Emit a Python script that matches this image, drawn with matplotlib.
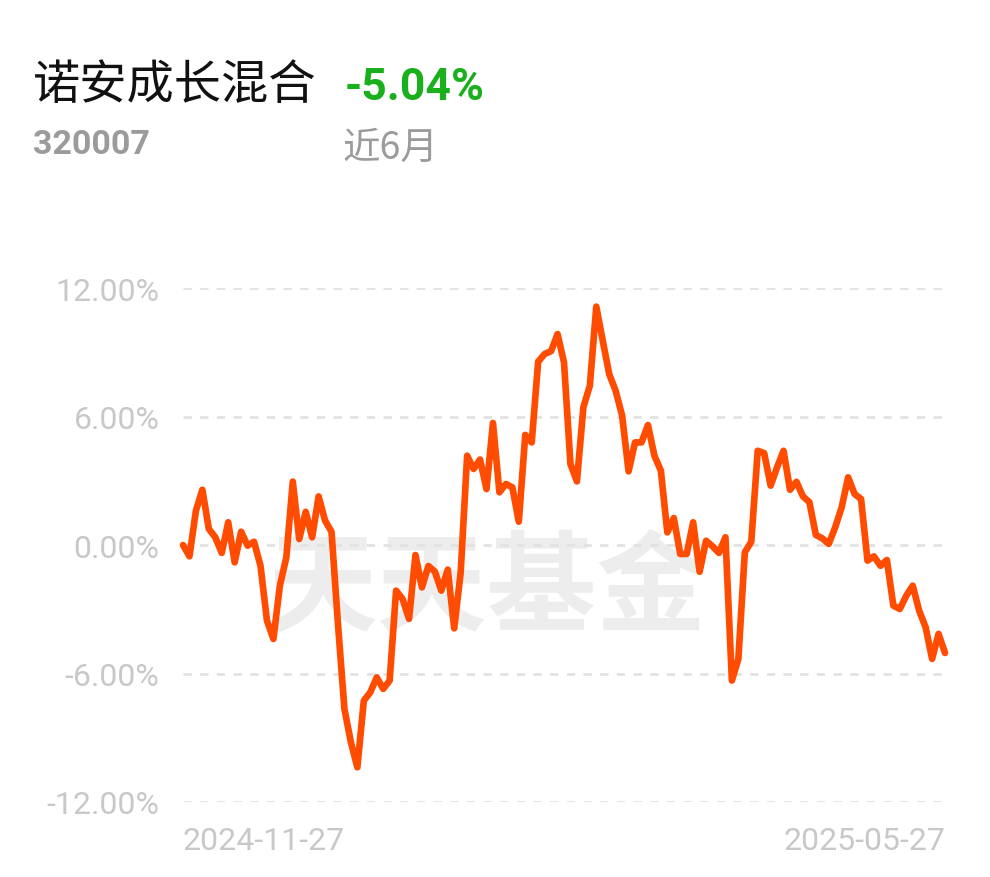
import matplotlib
matplotlib.use("Agg")
import matplotlib.pyplot as plt
import numpy as np

# ---- data ----
fund_name = "诺安成长混合"
fund_code = "320007"
period_label = "近6月"
period_return = "-5.04%"
date_labels = ["2024-11-27", "2025-05-27"]
y_ticks = [12, 6, 0, -6, -12]
y_tick_labels = ["12.00%", "6.00%", "0.00%", "-6.00%", "-12.00%"]
returns = [
    0.00, -0.53, 1.60, 2.58, 0.75, 0.36, -0.37, 1.06, -0.81, 0.62,
    -0.03, 0.15, -0.97, -3.53, -4.39, -1.90, -0.58, 2.96, 0.28, 1.55,
    0.36, 2.27, 1.14, 0.62, -3.70, -7.66, -9.21, -10.38, -7.27, -6.88,
    -6.18, -6.72, -6.33, -2.13, -2.52, -3.45, -0.47, -1.98, -0.98, -1.24,
    -2.13, -1.15, -3.89, -1.28, 4.17, 3.55, 3.99, 2.61, 5.70, 2.46,
    2.85, 2.69, 1.09, 5.14, 4.79, 8.56, 8.92, 9.05, 9.85, 8.53,
    3.78, 2.97, 6.43, 7.44, 11.13, 9.54, 7.98, 7.20, 6.04, 3.44,
    4.79, 4.79, 5.60, 4.17, 3.47, 0.59, 1.26, -0.42, -0.42, 1.06,
    -1.25, 0.20, -0.06, -0.37, 0.36, -6.33, -5.32, -0.34, 0.15, 4.40,
    4.29, 2.77, 3.63, 4.40, 2.58, 2.95, 2.27, 2.00, 0.47, 0.31,
    0.05, 0.83, 1.76, 3.16, 2.38, 2.15, -0.73, -0.53, -0.97, -0.70,
    -2.83, -2.99, -2.37, -1.90, -3.07, -3.84, -5.32, -4.15, -5.04,
]
watermark = "天天基金"

W, H = 990, 878
fig = plt.figure(figsize=(W / 100, H / 100), dpi=100)
fig.patch.set_facecolor("white")

left, right = 183, 945
top, bottom = 289, 803
ax = fig.add_axes([left / W, 1 - bottom / H, (right - left) / W, (bottom - top) / H])
ax.set_facecolor("none")

x = np.arange(len(returns))
ax.set_xlim(0, len(returns) - 1)
ax.set_ylim(-12, 12)

# watermark (behind everything in the axes)
ax.text(487 / W, 1 - 592 / H, watermark, transform=fig.transFigure,
        family=["Noto Sans CJK SC"], fontweight="bold", fontsize=79,
        color="#ededed", ha="center", va="center", zorder=0)

for t in y_ticks:
    ax.axhline(t, color="#e2e2e2", lw=2, ls=(0, (3, 3)), zorder=1)

ax.plot(x, returns, color="#ff4c00", lw=4.8, solid_joinstyle="round",
        solid_capstyle="round", zorder=3, clip_on=False)

for s in ax.spines.values():
    s.set_visible(False)

ax.set_yticks(y_ticks)
ax.set_yticklabels(y_tick_labels, family="Roboto", fontsize=23, color="#c8c8c8")
ax.tick_params(axis="y", length=0, pad=17)

ax.set_xticks([0, len(returns) - 1])
ax.set_xticklabels(date_labels, family="Roboto", fontsize=23, color="#c8c8c8")
xl = ax.get_xticklabels()
xl[0].set_ha("left")
xl[1].set_ha("right")
ax.tick_params(axis="x", length=0, pad=17)

# header texts
fig.text(33 / W, 1 - 86 / H, fund_name, family=["Noto Sans CJK SC"],
         fontsize=34, color="#111111", ha="left", va="center")
fig.text(345 / W, 1 - 88 / H, period_return, family="Roboto", fontweight="bold",
         fontsize=32, color="#1aaf1c", ha="left", va="center")
fig.text(33 / W, 1 - 145 / H, fund_code, family="Roboto", fontweight="bold",
         fontsize=24.5, color="#9b9b9b", ha="left", va="center")
fig.text(343 / W, 1 - 148 / H, period_label, family=["Noto Sans CJK SC"],
         fontsize=27, color="#9b9b9b", ha="left", va="center")

fig.savefig("out.png", dpi=100, facecolor="white")
